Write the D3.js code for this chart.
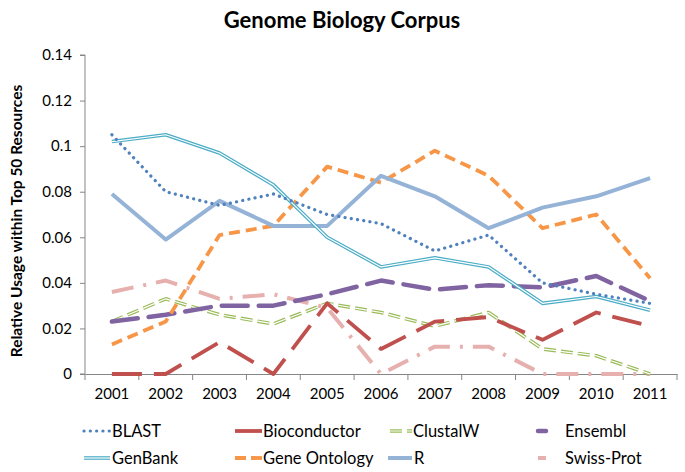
<!DOCTYPE html>
<html><head><meta charset="utf-8">
<script src="https://cdn.jsdelivr.net/npm/d3@7"></script>
<style>body{margin:0;background:#fff;}svg{display:block;font-family:Lato,"Open Sans",sans-serif;}</style>
</head><body><svg id="c" width="685" height="472"></svg>
<script>
const years = ["2001","2002","2003","2004","2005","2006","2007","2008","2009","2010","2011"];
const yTicks = [0,0.02,0.04,0.06,0.08,0.1,0.12,0.14];
const blast = [0.105,0.080,0.074,0.079,0.070,0.066,0.054,0.061,0.040,0.035,0.031];
const bioconductor = [0,0,0.014,0,0.031,0.011,0.023,0.025,0.015,0.027,0.021];
const clustalw = [0.023,0.033,0.026,0.022,0.031,0.027,0.021,0.027,0.011,0.008,0.000];
const ensembl = [0.023,0.026,0.030,0.030,0.035,0.041,0.037,0.039,0.038,0.043,0.032];
const genbank = [0.102,0.105,0.097,0.083,0.060,0.047,0.051,0.047,0.031,0.034,0.028];
const geneOntology = [0.013,0.023,0.061,0.065,0.091,0.084,0.098,0.087,0.064,0.070,0.042];
const rUsage = [0.079,0.059,0.076,0.065,0.065,0.087,0.078,0.064,0.073,0.078,0.086];
const swissProt = [0.036,0.041,0.033,0.035,0.029,0.000,0.012,0.012,0.000,0.000,0.000];
const seriesNames = ["BLAST","Bioconductor","ClustalW","Ensembl","GenBank","Gene Ontology","R","Swiss-Prot"];

const styles = {
  "BLAST":{c:"#4F81BD",w:3.2,dash:"0.1 6.2",cap:"round"},
  "Bioconductor":{c:"#C0504D",w:3.8,dash:"30 12",cap:"butt"},
  "ClustalW":{c:"#9BBB59",w:3.6,dash:"12 5",dbl:true,cap:"butt"},
  "Ensembl":{c:"#8064A2",w:4.5,dash:"26 11",cap:"round"},
  "GenBank":{c:"#4BACC6",w:3.6,dbl:true},
  "Gene Ontology":{c:"#F79646",w:3.8,dash:"11 6",cap:"butt"},
  "R":{c:"#95B3D7",w:4,dash:null},
  "Swiss-Prot":{c:"#E6B0AE",w:4,dash:"22 10 3 10",cap:"butt"}
};
const dataMap = {"BLAST":blast,"Bioconductor":bioconductor,"ClustalW":clustalw,"Ensembl":ensembl,
  "GenBank":genbank,"Gene Ontology":geneOntology,"R":rUsage,"Swiss-Prot":swissProt};

const svg = d3.select("#c");
const m = {l:85,r:677,t:55,b:374};
const x = d3.scaleBand().domain(years).range([m.l,m.r]);
const y = d3.scaleLinear().domain([0,0.14]).range([m.b,m.t]);

svg.append("text").attr("x",342).attr("y",28).attr("text-anchor","middle")
  .attr("font-size",22).attr("font-weight","bold").text("Genome Biology Corpus");

// y axis
const ya = svg.append("g").attr("transform",`translate(${m.l},0)`)
  .call(d3.axisLeft(y).tickValues(yTicks).tickSize(5).tickPadding(8).tickFormat(d=>d===0?"0":String(+d.toFixed(2))));
ya.select(".domain").attr("stroke","#868686").attr("d",`M-5,${m.b}H0V${m.t}H-5`);
ya.selectAll(".tick line").attr("stroke","#868686");
ya.selectAll("text").attr("font-size",15).attr("fill","#000").attr("font-family","Lato,sans-serif");

// x axis
const xa = svg.append("g").attr("transform",`translate(0,${m.b})`)
  .call(d3.axisBottom(x).tickSize(0).tickPadding(14));
xa.select(".domain").attr("stroke","#868686");
xa.selectAll("text").attr("font-size",15).attr("fill","#000").attr("font-family","Lato,sans-serif");
const bounds = years.map(yr=>x(yr)).concat([m.r]);
svg.append("g").selectAll("line").data(bounds).join("line")
  .attr("x1",d=>d).attr("x2",d=>d).attr("y1",m.b).attr("y2",m.b+6).attr("stroke","#868686");

svg.append("text").attr("transform","translate(22,221) rotate(-90)").attr("text-anchor","middle")
  .attr("font-size",15.5).attr("font-weight","bold").text("Relative Usage within Top 50 Resources");

const line = d3.line().x((d,i)=>x(years[i])+x.bandwidth()/2).y(d=>y(d));
const drawOrder = ["Swiss-Prot","ClustalW","Bioconductor","Ensembl","Gene Ontology","R","GenBank","BLAST"];
const g = svg.append("g");
function stroke(sel, s){
  sel.attr("fill","none").attr("stroke",s.c).attr("stroke-width",s.w)
    .attr("stroke-linejoin","round").attr("stroke-linecap",s.cap||"butt");
  if(s.dash) sel.attr("stroke-dasharray",s.dash);
}
drawOrder.forEach(n=>{
  const s = styles[n];
  const p = g.append("path").attr("d",line(dataMap[n]));
  stroke(p,s);
  if(s.dbl){
    const w = g.append("path").attr("d",line(dataMap[n])).attr("fill","none").attr("stroke","#fff")
      .attr("stroke-width",1.2).attr("stroke-linejoin","round");
    if(s.dash) w.attr("stroke-dasharray",s.dash);
  }
});

// legend
const legPos = [[84,431],[235,431],[390,431],[538,431],[84,458],[235,458],[388,458],[538,458]];
const legLen = [26,27,22,8,26,27,24,8];
const textX = [112,263,413,565,112,263,414,565];
seriesNames.forEach((n,i)=>{
  const s = styles[n];
  const [lx,ly] = legPos[i];
  const p = svg.append("line").attr("x1",lx).attr("x2",lx+legLen[i]).attr("y1",ly).attr("y2",ly);
  stroke(p,s);
  if(n==="Bioconductor"||n==="Ensembl"||n==="Swiss-Prot") p.attr("stroke-dasharray",null);
  if(n==="Gene Ontology") p.attr("stroke-dasharray","11 5");
  if(s.dbl){
    svg.append("line").attr("x1",lx).attr("x2",lx+legLen[i]).attr("y1",ly).attr("y2",ly)
      .attr("stroke","#fff").attr("stroke-width",1.2).attr("stroke-dasharray",s.dash||null);
  }
  svg.append("text").attr("x",textX[i]).attr("y",ly+5.8).attr("font-size",16.5).text(n);
});
</script></body></html>
